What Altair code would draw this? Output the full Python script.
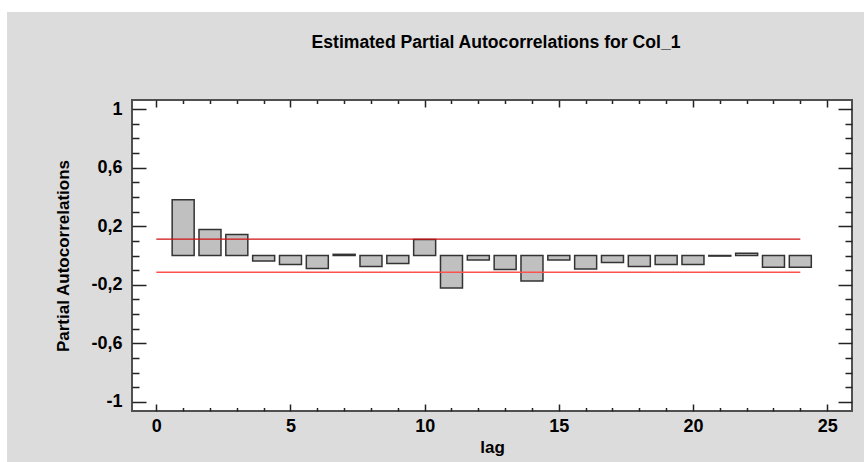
import altair as alt
import numpy as np
import pandas as pd

# Partial autocorrelation estimates by lag
lags = list(range(1, 25))
pacf = [0.381, 0.178, 0.144, -0.037, -0.062, -0.089, 0.008, -0.075, -0.055, 0.110,
        -0.222, -0.030, -0.096, -0.174, -0.030, -0.092, -0.048, -0.075, -0.062, -0.062,
        -0.004, 0.015, -0.080, -0.080]

# 95% probability limits around zero
limit_upper = 0.112
limit_lower = -0.114

# Axis tick positions and labels
x_label_values = [0, 5, 10, 15, 20, 25]
x_tick_values = list(range(0, 26))
y_label_values = [1, 0.6, 0.2, -0.2, -0.6, -1]
y_tick_values = [round(v / 10, 1) for v in range(-10, 11)]

W, H = 720, 311
FONT = "Liberation Sans"

bars_df = pd.DataFrame({"lag": lags, "pacf": pacf})
upper_df = pd.DataFrame({"x0": [0], "x1": [lags[-1]], "lim": [limit_upper]})
lower_df = pd.DataFrame({"x0": [0], "x1": [lags[-1]], "lim": [limit_lower]})

xs = alt.Scale(domain=[-0.72, 25.74], nice=False, zero=False)
ys = alt.Scale(domain=[-1.063, 1.063], nice=False, zero=False)

comma_expr = "(datum.value < 0 ? '-' : '') + replace(format(abs(datum.value), '.1~f'), '.', ',')"

x_major = {"condition": {"test": "datum.value % 5 === 0", "value": 7}, "value": 3.5}
y_major = {"condition": {"test": "round(abs(datum.value) * 10) % 4 === 2", "value": 14}, "value": 7}


def tick_axis(values, orient, size, offset):
    return alt.Axis(values=values, orient=orient, offset=offset, labels=False,
                    domain=False, title=None, grid=False, tickSize=size,
                    tickColor="#222222", tickWidth=1.5, zindex=1)


# Grey panel behind the whole figure, white plotting area on top
panel = alt.Chart(pd.DataFrame({"k": [0]})).mark_rect(color="#dcdcdc").encode(
    x=alt.value(-125), x2=alt.value(W + 12), y=alt.value(-88), y2=alt.value(H + 51)
)
plot_bg = alt.Chart(pd.DataFrame({"k": [0]})).mark_rect(
    color="white", stroke="#505050", strokeWidth=2
).encode(x=alt.value(0), x2=alt.value(W), y=alt.value(0), y2=alt.value(H))

bars = alt.Chart(bars_df).mark_bar(
    size=22, orient="vertical", color="#c0c0c0", stroke="#333333", strokeWidth=1.5
).encode(
    x=alt.X("lag:Q", scale=xs,
            axis=alt.Axis(values=x_label_values, orient="bottom", ticks=False, domain=False,
                          grid=False, labelPadding=6, title="lag", titlePadding=4,
                          labelExpr=comma_expr, zindex=1)),
    y=alt.Y("pacf:Q", scale=ys,
            axis=alt.Axis(values=y_label_values, orient="left", ticks=False, domain=False,
                          grid=False, labelPadding=10, title="Partial Autocorrelations",
                          titlePadding=18, labelExpr=comma_expr, zindex=1)),
    y2=alt.datum(0),
)

upper = alt.Chart(upper_df).mark_rule(color="#d01010", strokeWidth=1.3).encode(
    x=alt.X("x0:Q", scale=xs, axis=tick_axis(x_tick_values, "bottom", x_major, -H)),
    x2="x1:Q",
    y=alt.Y("lim:Q", scale=ys, axis=tick_axis(y_tick_values, "left", y_major, -W)),
)

lower = alt.Chart(lower_df).mark_rule(color="#ff5050", strokeWidth=1.6).encode(
    x=alt.X("x0:Q", scale=xs, axis=tick_axis(x_tick_values, "top", x_major, -H)),
    x2="x1:Q",
    y=alt.Y("lim:Q", scale=ys, axis=tick_axis(y_tick_values, "right", y_major, -W)),
)

chart = alt.layer(panel, plot_bg, bars, upper, lower).resolve_axis(
    x="independent", y="independent"
).properties(
    width=W,
    height=H,
    title=alt.TitleParams(
        "Estimated Partial Autocorrelations for Col_1",
        font=FONT, fontSize=17.6, fontWeight="bold", color="black",
        anchor="middle", offset=-40, dx=4,
    ),
    autosize=alt.AutoSizeParams(type="none"),
    padding={"left": 132, "top": 100, "right": 12, "bottom": 51},
).configure(
    background="white",
).configure_view(
    stroke=None,
).configure_axis(
    labelFont=FONT, labelFontSize=18, labelFontWeight="bold", labelColor="black",
    titleFont=FONT, titleFontSize=17, titleFontWeight="bold", titleColor="black",
)

chart.save("out.html", embed_options={"renderer": "svg", "actions": False})
